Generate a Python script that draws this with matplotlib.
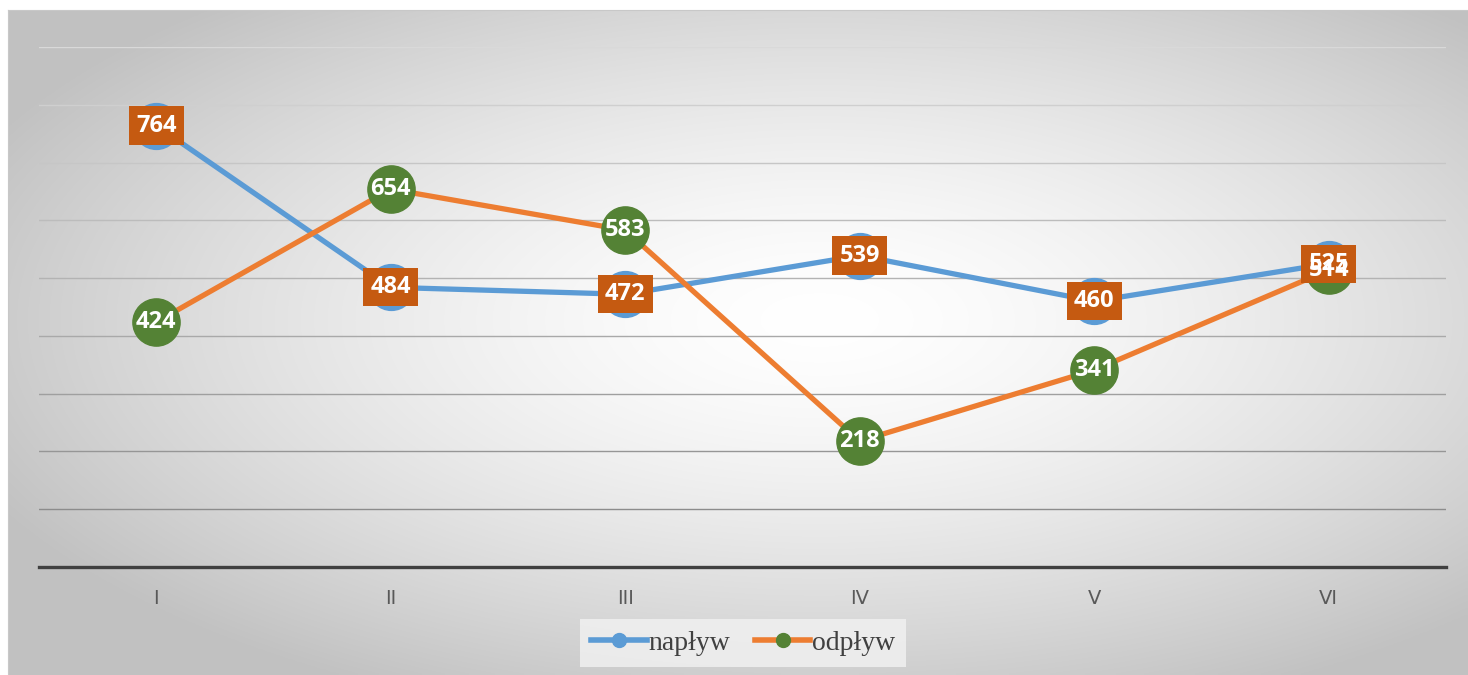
import matplotlib.pyplot as plt
import numpy as np
from matplotlib.lines import Line2D

plt.switch_backend('Agg')

# data
months = ['I', 'II', 'III', 'IV', 'V', 'VI']
naplyw = [764, 484, 472, 539, 460, 525]
odplyw = [424, 654, 583, 218, 341, 514]
series_names = ['napływ', 'odpływ']

BLUE = '#5B9BD5'
ORANGE = '#ED7D31'
GREEN = '#548235'
BOX = '#C55A11'

W, H = 1468, 675
fig = plt.figure(figsize=(W / 100, H / 100), dpi=100)
fig.patch.set_facecolor('white')

# radial gradient background of the chart frame
fx0, fy0, fx1, fy1 = 8, 10, 1468, 675
bg = fig.add_axes([fx0 / W, 1 - fy1 / H, (fx1 - fx0) / W, (fy1 - fy0) / H], zorder=-5)
gx, gy = np.meshgrid(np.linspace(fx0, fx1, 400), np.linspace(fy0, fy1, 200))
cx, cy = 820, 320
r = np.sqrt(((gx - cx) / 760) ** 2 + ((gy - cy) / 345) ** 2)
shade = np.clip(1 - 0.18 * r ** 1.5, 0.76, 1)
bg.imshow(np.dstack([shade] * 3), aspect='auto', extent=[0, 1, 0, 1], interpolation='bilinear')
bg.set_xlim(0, 1)
bg.set_ylim(0, 1)
for s in bg.spines.values():
    s.set_visible(False)
bg.spines['top'].set_visible(True)
bg.spines['left'].set_visible(True)
bg.spines['top'].set_color('#c8c8c8')
bg.spines['left'].set_color('#c8c8c8')
bg.set_xticks([])
bg.set_yticks([])

# plot area
px0, px1, py_top, py_bot = 39, 1446, 47, 567
ax = fig.add_axes([px0 / W, 1 - py_bot / H, (px1 - px0) / W, (py_bot - py_top) / H])
ax.patch.set_alpha(0)
ax.set_xlim(-0.5, len(months) - 0.5)
ax.set_ylim(0, 900)

for v in range(100, 901, 100):
    g = 0.55 + (v - 100) / 800 * 0.30
    ax.axhline(v, color=(g, g, g), lw=1.0, zorder=1)

for s in ['top', 'right', 'left']:
    ax.spines[s].set_visible(False)
ax.spines['bottom'].set_color('#404040')
ax.spines['bottom'].set_linewidth(2.4)
ax.spines['bottom'].set_zorder(2)

x = np.arange(len(months))
ax.set_xticks(x)
ax.set_xticklabels(months, fontsize=14, color='#595959', family='DejaVu Sans')
ax.tick_params(axis='x', length=0, pad=16)
ax.set_yticks([])

# lines and markers
ax.plot(x, naplyw, color=BLUE, lw=3.8, marker='o', ms=33, mfc=BLUE, mec=BLUE,
        solid_capstyle='round', zorder=3)
ax.plot(x, odplyw, color=ORANGE, lw=3.8, solid_capstyle='round', zorder=4)
ax.plot(x, odplyw, ls='none', marker='o', ms=34, mfc=GREEN, mec=GREEN, zorder=5)

# data labels
for xi, v in zip(x, naplyw):
    ax.text(xi, v, str(v), ha='center', va='center', fontsize=17, fontweight='bold',
            color='white', family='Open Sans', zorder=6,
            bbox=dict(boxstyle='square,pad=0.3', fc=BOX, ec='none'))
for xi, v in zip(x, odplyw):
    ax.text(xi, v, str(v), ha='center', va='center', fontsize=17, fontweight='bold',
            color='white', family='Open Sans', zorder=7)

# legend
handles = [
    Line2D([0], [0], color=BLUE, lw=4, marker='o', ms=10, mfc=BLUE, mec=BLUE),
    Line2D([0], [0], color=ORANGE, lw=4, marker='o', ms=10, mfc=GREEN, mec=GREEN),
]
leg = fig.legend(handles, series_names, loc='center', bbox_to_anchor=(743 / W, 1 - 643 / H),
                 ncol=2, frameon=True, fancybox=False, handlelength=2.0, columnspacing=0.9,
                 handletextpad=0.05, borderpad=0.4,
                 prop={'family': 'Liberation Serif', 'size': 20})
leg.get_frame().set_facecolor('#f2f2f2')
leg.get_frame().set_edgecolor('none')
for t in leg.get_texts():
    t.set_color('#404040')

fig.savefig('out.png', dpi=100)
